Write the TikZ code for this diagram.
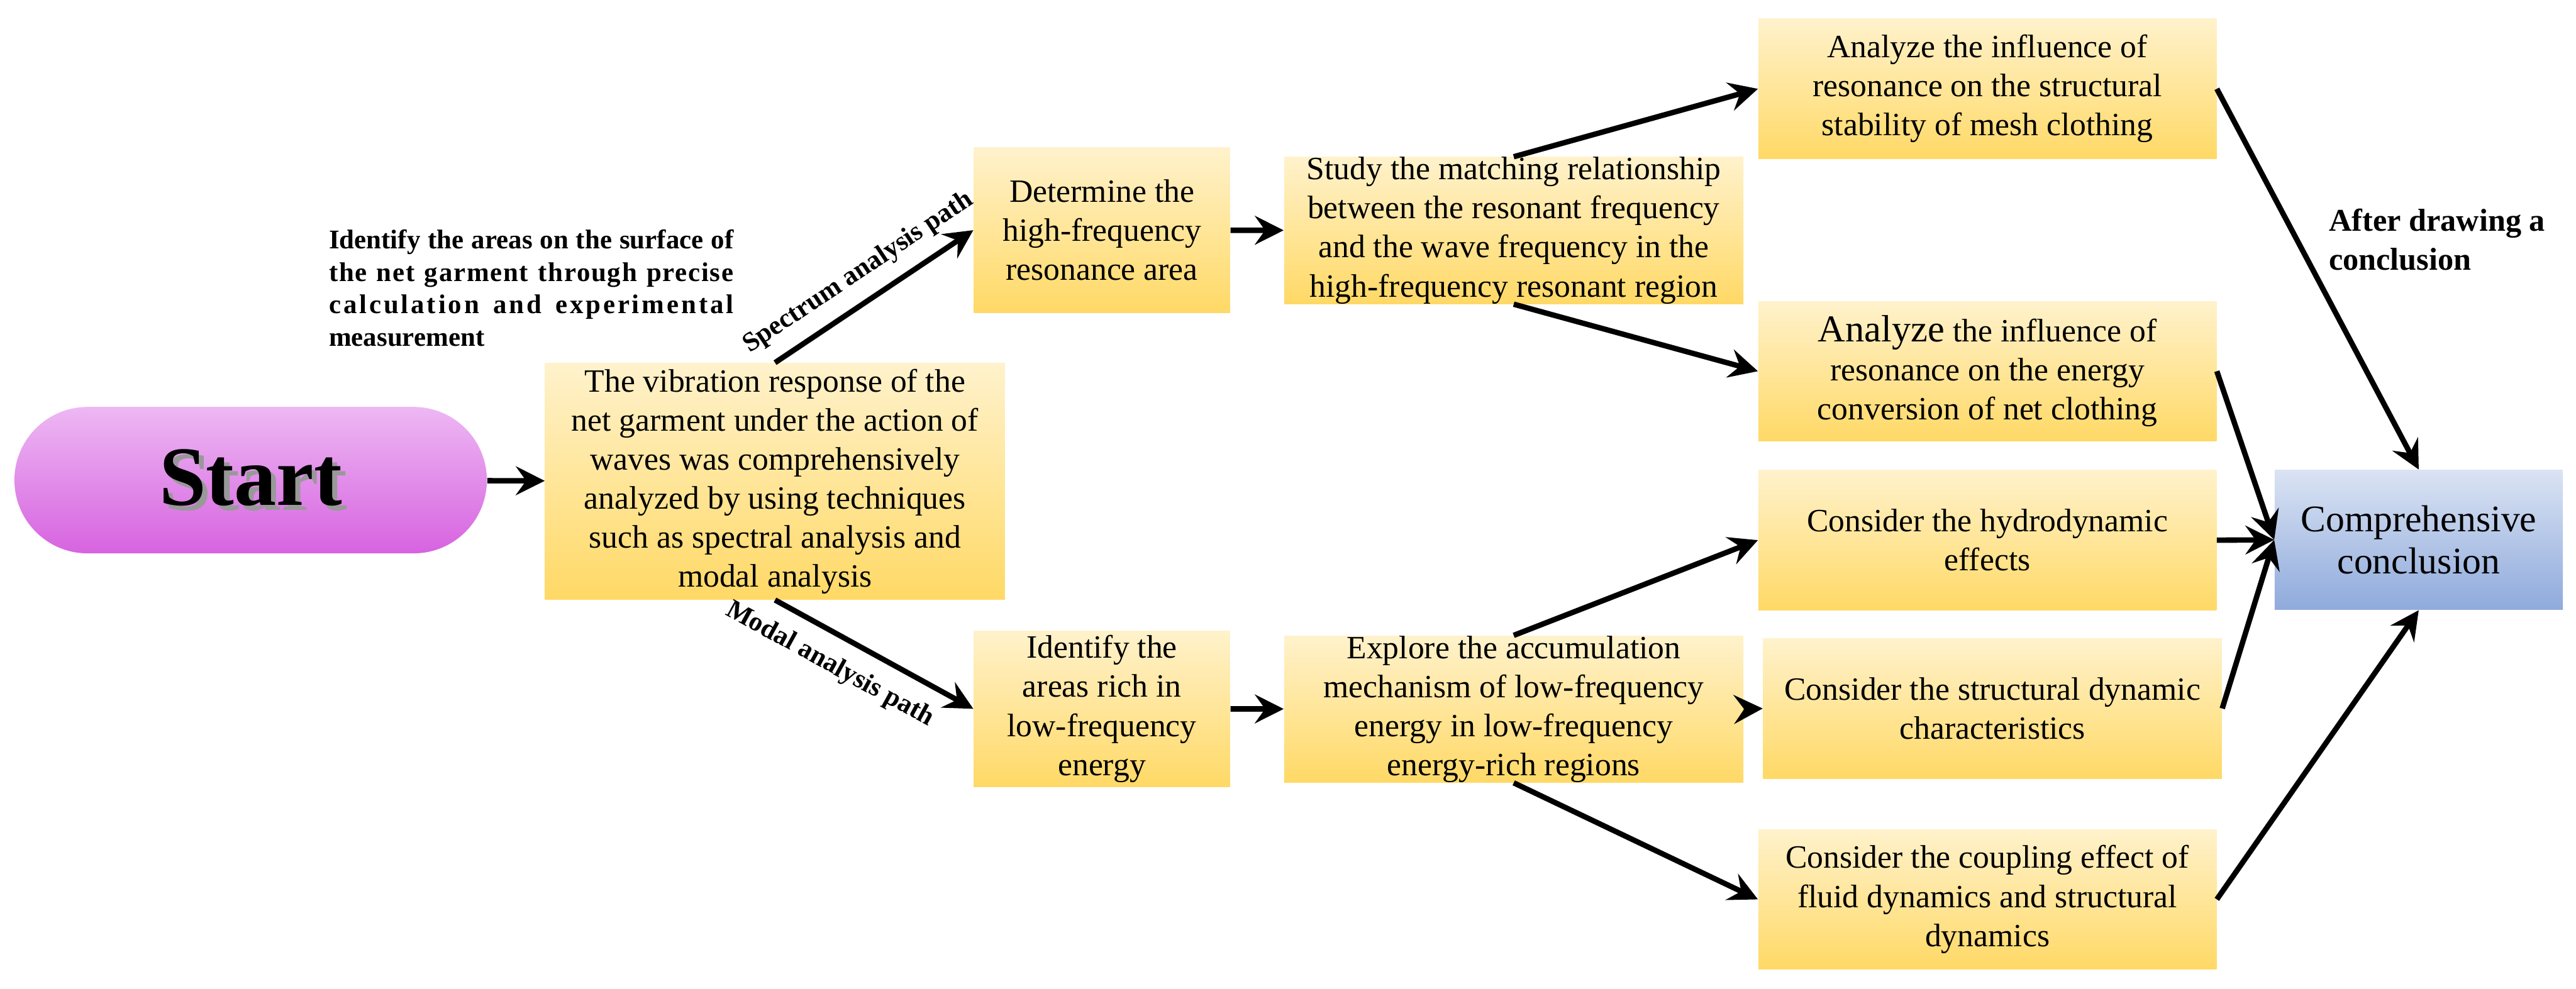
\documentclass[tikz,border=0pt]{standalone}
\usepackage{fontspec}
\setmainfont{Liberation Serif}
\usetikzlibrary{arrows.meta}
\definecolor{boxtop}{HTML}{FFF2CC}
\definecolor{boxbot}{HTML}{FFD966}
\definecolor{starttop}{HTML}{EDB8F3}
\definecolor{startbot}{HTML}{D763E0}
\definecolor{endtop}{HTML}{DAE3F3}
\definecolor{endbot}{HTML}{8FAADC}
\begin{document}
\begin{tikzpicture}[
  box/.style={rectangle, top color=boxtop, bottom color=boxbot, draw=none, align=center, inner sep=0pt, font=\fontsize{15.4}{18.5}\selectfont},
  startbox/.style={rectangle, rounded corners=1.22cm, top color=starttop, bottom color=startbot, draw=none, minimum width=7.87cm, minimum height=2.44cm, font=\bfseries\fontsize{40}{44}\selectfont},
  endbox/.style={rectangle, top color=endtop, bottom color=endbot, draw=none, align=center, inner sep=0pt, font=\fontsize{17.8}{20.2}\selectfont},
  note/.style={font=\bfseries\fontsize{12.8}{15.4}\selectfont},
  arrow/.style={-{Stealth[length=0.48cm, width=0.48cm, inset=0.17cm]}, line width=0.09cm}
]
\useasboundingbox (0,0) rectangle (42.91,-16.47);
\node[startbox] (start) at (4.175,-8.00) {\rlap{\kern2.5pt\raisebox{-2.5pt}{\textcolor{black!40}{Start}}}Start};
\node[box, minimum width=7.66cm, minimum height=3.94cm] (vib) at (12.91,-8.02) {
  The vibration response of the\\
  net garment under the action of\\
  waves was comprehensively\\
  analyzed by using techniques\\
  such as spectral analysis and\\
  modal analysis
};
\node[note, text width=6.74cm, align=justify] (why) at (8.85,-4.80) {
  Identify the areas on the surface of\linebreak
  {\addfontfeatures{LetterSpace=4}the net garment through precise}\linebreak
  {\addfontfeatures{LetterSpace=9}calculation and experimental}\linebreak
  measurement
};
\node[box, minimum width=4.27cm, minimum height=2.75cm] (hfa) at (18.355,-3.835) {
  Determine the\\
  high-frequency\\
  resonance area
};
\node[box, minimum width=4.27cm, minimum height=2.60cm] (lfa) at (18.355,-11.81) {
  Identify the\\
  areas rich in\\
  low-frequency\\
  energy
};
\node[box, minimum width=7.65cm, minimum height=2.36cm] (study) at (25.215,-3.84) {
  Study the matching relationship\\
  between the resonant frequency\\
  and the wave frequency in the\\
  high-frequency resonant region
};
\node[box, minimum width=7.65cm, minimum height=2.33cm] (explore) at (25.215,-11.815) {
  Explore the accumulation\\
  mechanism of low-frequency\\
  energy in low-frequency\\
  energy-rich regions
};
\node[box, minimum width=7.63cm, minimum height=2.34cm] (stab) at (33.105,-1.48) {
  Analyze the influence of\\
  resonance on the structural\\
  stability of mesh clothing
};
\node[box, minimum width=7.63cm, minimum height=2.33cm] (conv) at (33.105,-6.185) {
  {\fontsize{18}{18.5}\selectfont Analyze} the influence of\\
  resonance on the energy\\
  conversion of net clothing
};
\node[box, minimum width=7.63cm, minimum height=2.34cm] (hydro) at (33.105,-9.00) {
  Consider the hydrodynamic\\
  effects
};
\node[box, minimum width=7.64cm, minimum height=2.33cm] (sdyn) at (33.19,-11.805) {
  Consider the structural dynamic\\
  characteristics
};
\node[box, minimum width=7.63cm, minimum height=2.33cm] (coup) at (33.105,-14.985) {
  Consider the coupling effect of\\
  fluid dynamics and structural\\
  dynamics
};
\node[endbox, minimum width=4.80cm, minimum height=2.33cm] (concl) at (40.29,-8.995) {
  Comprehensive\\
  conclusion
};
\node[note, font=\bfseries\fontsize{15}{18.5}\selectfont, align=left, anchor=west] (after) at (38.67,-3.99) {
  After drawing a\\
  conclusion
};
\draw[arrow] (start) -- (vib);
\draw[arrow] (vib.north) -- node[note, midway, sloped, above=3pt] {Spectrum analysis path} (hfa.west);
\draw[arrow] (vib.south) -- node[note, pos=0.35, sloped, below=4pt] {Modal analysis path} (lfa.west);
\draw[arrow] (hfa) -- (study);
\draw[arrow] (lfa) -- (explore);
\draw[arrow] (study.north) -- (stab.west);
\draw[arrow] (study.south) -- (conv.west);
\draw[arrow] (explore.north) -- (hydro.west);
\draw[arrow] (explore.east) -- (sdyn.west);
\draw[arrow] (explore.south) -- (coup.west);
\draw[arrow] (stab.east) -- (concl.north);
\draw[arrow] (conv.east) -- (concl.west);
\draw[arrow] (hydro.east) -- (concl.west);
\draw[arrow] (sdyn.east) -- (concl.west);
\draw[arrow] (coup.east) -- (concl.south);
\end{tikzpicture}
\end{document}
